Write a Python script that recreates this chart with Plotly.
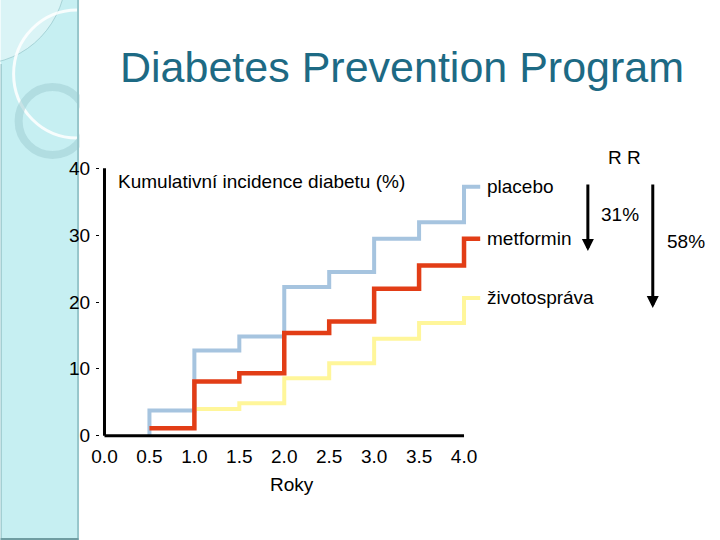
import plotly.graph_objects as go

# ---------------- data ----------------
years = [0.5, 1.0, 1.5, 2.0, 2.5, 3.0, 3.5, 4.0]
follow_up_end = 4.18
placebo = [3.75, 12.75, 14.85, 22.25, 24.5, 29.45, 31.95, 37.25]
metformin = [1.1, 8.1, 9.35, 15.35, 17.1, 22.0, 25.45, 29.45]
lifestyle_years = [1.0, 1.5, 2.0, 2.5, 3.0, 3.5, 4.0]
lifestyle = [4.0, 4.85, 8.6, 10.85, 14.5, 16.85, 20.6]
series_names = ["placebo", "metformin", "životospráva"]
x_ticks = [0.0, 0.5, 1.0, 1.5, 2.0, 2.5, 3.0, 3.5, 4.0]
x_tick_labels = ["0.0", "0.5", "1.0", "1.5", "2.0", "2.5", "3.0", "3.5", "4.0"]
y_ticks = [0, 10, 20, 30, 40]
y_tick_labels = ["0", "10", "20", "30", "40"]
rr_labels = ["31%", "58%"]

# ---------------- layout geometry ----------------
W_PX, H_PX = 720, 540
L, R, T, B = 99.5, 238.0, 165.0, 101.0
PW = W_PX - L - R
PH = H_PX - T - B

def px(xp):
    return (xp - L) / PW

def py(yp):
    return (T + PH - yp) / PH

FONT = "Liberation Sans, Arial, sans-serif"
BLUE = "#a6c4df"
RED = "#e23d16"
YELLOW = "#fff69a"

fig = go.Figure()

fig.add_trace(go.Scatter(
    x=[years[0]] + years + [follow_up_end],
    y=[0] + placebo + [placebo[-1]],
    mode="lines", line=dict(color=BLUE, width=4, shape="hv"),
    name=series_names[0], showlegend=False, hoverinfo="skip"))
fig.add_trace(go.Scatter(
    x=lifestyle_years + [follow_up_end],
    y=lifestyle + [lifestyle[-1]],
    mode="lines", line=dict(color=YELLOW, width=4, shape="hv"),
    name=series_names[2], showlegend=False, hoverinfo="skip"))
fig.add_trace(go.Scatter(
    x=years + [follow_up_end],
    y=metformin + [metformin[-1]],
    mode="lines", line=dict(color=RED, width=4.5, shape="hv"),
    name=series_names[1], showlegend=False, hoverinfo="skip"))

shapes = []
# left decorative band
shapes.append(dict(type="rect", xref="paper", yref="paper",
                   x0=px(0), x1=px(78), y0=py(540), y1=py(0),
                   fillcolor="#c6eff2", line=dict(width=0), layer="below"))
# lighter top-left region
shapes.append(dict(type="circle", xref="paper", yref="paper",
                   x0=px(-110), x1=px(66), y0=py(64), y1=py(-120),
                   fillcolor="rgba(255,255,255,0.35)",
                   line=dict(color="rgba(140,190,195,0.6)", width=1), layer="below"))
# large white arc circle
shapes.append(dict(type="circle", xref="paper", yref="paper",
                   x0=px(13), x1=px(140), y0=py(138), y1=py(10),
                   line=dict(color="rgba(255,255,255,0.85)", width=3), layer="below"))
# ring
shapes.append(dict(type="circle", xref="paper", yref="paper",
                   x0=px(18), x1=px(86), y0=py(155), y1=py(87),
                   line=dict(color="rgba(160,205,212,0.55)", width=8), layer="below"))
# white cover to the right of the band
shapes.append(dict(type="rect", xref="paper", yref="paper",
                   x0=px(79), x1=px(720), y0=py(540), y1=py(0),
                   fillcolor="white", line=dict(width=0), layer="below"))
# band border lines
shapes.append(dict(type="line", xref="paper", yref="paper",
                   x0=px(77.5), x1=px(77.5), y0=py(540), y1=py(0),
                   line=dict(color="#97c6cb", width=2), layer="below"))
shapes.append(dict(type="line", xref="paper", yref="paper",
                   x0=px(0.5), x1=px(0.5), y0=py(540), y1=py(64),
                   line=dict(color="#8fbcc1", width=1), layer="below"))
shapes.append(dict(type="line", xref="paper", yref="paper",
                   x0=px(0), x1=px(78), y0=py(539), y1=py(539),
                   line=dict(color="#6f9da2", width=2), layer="below"))
# axis lines
shapes.append(dict(type="line", xref="x", yref="y", x0=0, x1=x_ticks[-1], y0=0, y1=0,
                   line=dict(color="black", width=3)))
shapes.append(dict(type="line", xref="x", yref="y", x0=0, x1=0, y0=0, y1=y_ticks[-1],
                   line=dict(color="black", width=3)))

ann = []
ann.append(dict(text="Diabetes Prevention Program", xref="paper", yref="paper",
                x=px(402), y=py(67), xanchor="center", yanchor="middle", showarrow=False,
                font=dict(family=FONT, size=43, color="#1d6a84")))
ann.append(dict(text="Kumulativní incidence diabetu (%)", xref="paper", yref="paper",
                x=px(116), y=py(181), xanchor="left", yanchor="middle", showarrow=False,
                font=dict(family=FONT, size=19, color="black")))
ann.append(dict(text="Roky", xref="paper", yref="paper",
                x=px(292), y=py(484), xanchor="center", yanchor="middle", showarrow=False,
                font=dict(family=FONT, size=19, color="black")))
# series labels at end values
for name, yv in zip(series_names, [placebo[-1], metformin[-1], lifestyle[-1]]):
    ann.append(dict(text=name, xref="paper", yref="y", x=px(485), y=yv,
                    xanchor="left", yanchor="middle", showarrow=False,
                    font=dict(family=FONT, size=19, color="black")))
ann.append(dict(text="R R", xref="paper", yref="paper", x=px(625), y=py(157),
                xanchor="center", yanchor="middle", showarrow=False,
                font=dict(family=FONT, size=19, color="black")))
ann.append(dict(text=rr_labels[0], xref="paper", yref="paper", x=px(620), y=py(214),
                xanchor="center", yanchor="middle", showarrow=False,
                font=dict(family=FONT, size=19, color="black")))
ann.append(dict(text=rr_labels[1], xref="paper", yref="paper", x=px(686), y=py(241),
                xanchor="center", yanchor="middle", showarrow=False,
                font=dict(family=FONT, size=19, color="black")))
# arrows
ann.append(dict(text="", xref="paper", yref="paper", x=px(588), y=py(251),
                ax=0, ay=-68, showarrow=True, arrowhead=2, arrowsize=0.8,
                arrowwidth=3, arrowcolor="black", standoff=0))
ann.append(dict(text="", xref="paper", yref="paper", x=px(653), y=py(308),
                ax=0, ay=-125, showarrow=True, arrowhead=2, arrowsize=0.8,
                arrowwidth=3, arrowcolor="black", standoff=0))

fig.update_layout(
    width=W_PX, height=H_PX,
    margin=dict(l=L, r=R, t=T, b=B, pad=0),
    paper_bgcolor="white", plot_bgcolor="rgba(0,0,0,0)",
    shapes=shapes, annotations=ann, showlegend=False,
    font=dict(family=FONT, size=19, color="black"),
    xaxis=dict(range=[-0.05, 4.2], showgrid=False, zeroline=False, showline=False,
               tickvals=x_ticks, ticktext=x_tick_labels, ticks="",
               ticklabelstandoff=4, tickfont=dict(family=FONT, size=19, color="black"),
               fixedrange=True),
    yaxis=dict(range=[-0.5, 40.5], showgrid=False, zeroline=False, showline=False,
               tickvals=y_ticks, ticktext=y_tick_labels, ticks="outside", ticklen=3,
               tickcolor="black", tickwidth=1, ticklabelstandoff=2,
               tickfont=dict(family=FONT, size=19, color="black"), fixedrange=True),
)

fig.write_html("out.html", config={"displayModeBar": False},
               post_script="document.body.style.margin='0px';document.body.style.padding='0px';")
